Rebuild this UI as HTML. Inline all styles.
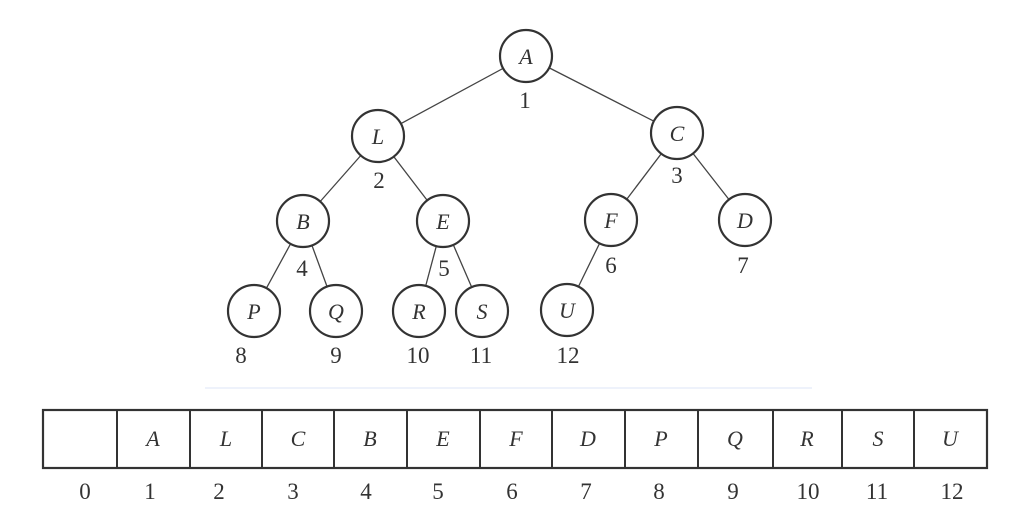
<!DOCTYPE html>
<html><head><meta charset="utf-8"><style>
html,body{margin:0;padding:0;background:#fff;}
svg{display:block;}
.n{fill:#fff;stroke:#333;stroke-width:2.2;}
.l{stroke:#444;stroke-width:1.3;}
.t{font-family:"Liberation Serif",serif;font-style:italic;font-size:22px;fill:#333;text-anchor:middle;}
.d{font-family:"Liberation Serif",serif;font-size:23px;fill:#333;text-anchor:middle;}
</style></head><body>
<svg width="1033" height="518" viewBox="0 0 1033 518">
<g class="l">
<line x1="526" y1="56" x2="378" y2="136"/>
<line x1="526" y1="56" x2="677" y2="133"/>
<line x1="378" y1="136" x2="303" y2="221"/>
<line x1="378" y1="136" x2="443" y2="221"/>
<line x1="677" y1="133" x2="611" y2="220"/>
<line x1="677" y1="133" x2="745" y2="220"/>
<line x1="303" y1="221" x2="254" y2="311"/>
<line x1="303" y1="221" x2="336" y2="311"/>
<line x1="443" y1="221" x2="419" y2="311"/>
<line x1="443" y1="221" x2="482" y2="311"/>
<line x1="611" y1="220" x2="567" y2="310"/>
</g>
<g>
<circle class="n" cx="526" cy="56" r="26"/><text class="t" x="526" y="64">A</text>
<circle class="n" cx="378" cy="136" r="26"/><text class="t" x="378" y="144">L</text>
<circle class="n" cx="677" cy="133" r="26"/><text class="t" x="677" y="141">C</text>
<circle class="n" cx="303" cy="221" r="26"/><text class="t" x="303" y="229">B</text>
<circle class="n" cx="443" cy="221" r="26"/><text class="t" x="443" y="229">E</text>
<circle class="n" cx="611" cy="220" r="26"/><text class="t" x="611" y="228">F</text>
<circle class="n" cx="745" cy="220" r="26"/><text class="t" x="745" y="228">D</text>
<circle class="n" cx="254" cy="311" r="26"/><text class="t" x="254" y="319">P</text>
<circle class="n" cx="336" cy="311" r="26"/><text class="t" x="336" y="319">Q</text>
<circle class="n" cx="419" cy="311" r="26"/><text class="t" x="419" y="319">R</text>
<circle class="n" cx="482" cy="311" r="26"/><text class="t" x="482" y="319">S</text>
<circle class="n" cx="567" cy="310" r="26"/><text class="t" x="567" y="318">U</text>
</g>
<g class="d">
<text x="525" y="108">1</text>
<text x="379" y="188">2</text>
<text x="677" y="183">3</text>
<text x="302" y="276">4</text>
<text x="444" y="276">5</text>
<text x="611" y="273">6</text>
<text x="743" y="273">7</text>
<text x="241" y="363">8</text>
<text x="336" y="363">9</text>
<text x="418" y="363">10</text>
<text x="481" y="363">11</text>
<text x="568" y="363">12</text>
</g>
<line x1="205" y1="388" x2="812" y2="388" stroke="#eef2fb" stroke-width="2"/>
<rect x="43" y="410" width="944" height="58" fill="none" stroke="#333" stroke-width="2.2"/>
<g stroke="#333" stroke-width="2">
<line x1="117" y1="410" x2="117" y2="468"/>
<line x1="190" y1="410" x2="190" y2="468"/>
<line x1="262" y1="410" x2="262" y2="468"/>
<line x1="334" y1="410" x2="334" y2="468"/>
<line x1="407" y1="410" x2="407" y2="468"/>
<line x1="480" y1="410" x2="480" y2="468"/>
<line x1="552" y1="410" x2="552" y2="468"/>
<line x1="625" y1="410" x2="625" y2="468"/>
<line x1="698" y1="410" x2="698" y2="468"/>
<line x1="773" y1="410" x2="773" y2="468"/>
<line x1="842" y1="410" x2="842" y2="468"/>
<line x1="914" y1="410" x2="914" y2="468"/>
</g>
<g class="t">
<text x="153" y="446">A</text><text x="226" y="446">L</text><text x="298" y="446">C</text>
<text x="370" y="446">B</text><text x="443" y="446">E</text><text x="516" y="446">F</text>
<text x="588" y="446">D</text><text x="661" y="446">P</text><text x="735" y="446">Q</text>
<text x="807" y="446">R</text><text x="878" y="446">S</text><text x="950" y="446">U</text>
</g>
<g class="d">
<text x="85" y="499">0</text><text x="150" y="499">1</text><text x="219" y="499">2</text>
<text x="293" y="499">3</text><text x="366" y="499">4</text><text x="438" y="499">5</text>
<text x="512" y="499">6</text><text x="586" y="499">7</text><text x="659" y="499">8</text>
<text x="733" y="499">9</text><text x="808" y="499">10</text><text x="877" y="499">11</text>
<text x="952" y="499">12</text>
</g>
</svg>
</body></html>
